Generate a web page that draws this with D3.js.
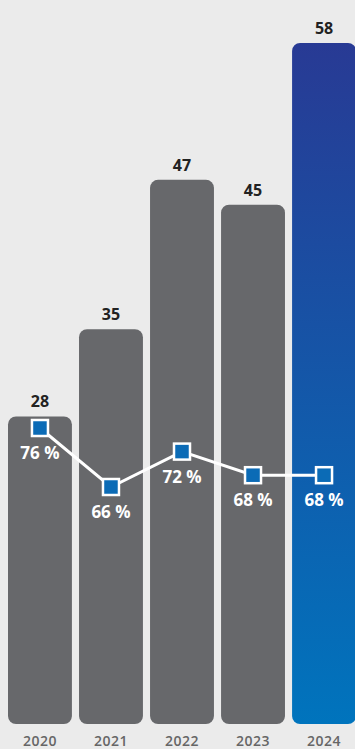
<!DOCTYPE html>
<html>
<head>
<meta charset="utf-8">
<script src="https://cdn.jsdelivr.net/npm/d3@7"></script>
<style>
  html, body { margin: 0; padding: 0; background: #ebebeb; }
  svg { display: block; }
</style>
</head>
<body>
<div id="chart"></div>
<script>
const years = ["2020", "2021", "2022", "2023", "2024"];
const values = [28, 35, 47, 45, 58];
const shares = [76, 66, 72, 68, 68];
const shareLabels = ["76 %", "66 %", "72 %", "68 %", "68 %"];

const W = 355, H = 749;
const svg = d3.select("#chart").append("svg")
  .attr("width", W).attr("height", H)
  .style("background", "#ebebeb");

const defs = svg.append("defs");
const grad = defs.append("linearGradient")
  .attr("id", "blueGrad").attr("x1", 0).attr("y1", 0).attr("x2", 0).attr("y2", 1);
grad.append("stop").attr("offset", "0%").attr("stop-color", "#283a94");
grad.append("stop").attr("offset", "100%").attr("stop-color", "#0074bd");

const x = d3.scaleBand().domain(years).range([8, 356]).paddingInner(0.1).paddingOuter(0);
const y = d3.scaleLinear().domain([0, 60]).range([765, 18]);
const yP = d3.scaleLinear().domain([60, 80]).range([522.4, 404.4]);
const baseY = 724;

const font = "'Open Sans', 'Noto Sans', sans-serif";

// Bars
svg.append("g").selectAll("rect").data(years).join("rect")
  .attr("x", d => x(d))
  .attr("y", (d, i) => y(values[i]))
  .attr("width", x.bandwidth())
  .attr("height", (d, i) => baseY - y(values[i]))
  .attr("rx", 8).attr("ry", 8)
  .attr("fill", (d, i) => i === years.length - 1 ? "url(#blueGrad)" : "#67686b");

// Value labels
svg.append("g").selectAll("text").data(years).join("text")
  .attr("x", d => x(d) + x.bandwidth() / 2)
  .attr("y", (d, i) => y(values[i]) - 9)
  .attr("text-anchor", "middle")
  .attr("font-family", font).attr("font-weight", 700).attr("font-size", 16)
  .attr("fill", "#222")
  .text((d, i) => values[i]);

// Year labels
svg.append("g").selectAll("text").data(years).join("text")
  .attr("x", d => x(d) + x.bandwidth() / 2)
  .attr("y", 746)
  .attr("text-anchor", "middle")
  .attr("font-family", font).attr("font-weight", 600).attr("font-size", 14)
  .attr("letter-spacing", 0.5)
  .attr("fill", "#666")
  .text(d => d);

// Line
const cx = d => x(d) + x.bandwidth() / 2;
const line = d3.line().x((d, i) => cx(years[i])).y(d => yP(d));
svg.append("path").datum(shares)
  .attr("d", line)
  .attr("fill", "none").attr("stroke", "#fff").attr("stroke-width", 3);

const sq = 16;
svg.append("g").selectAll("rect").data(years).join("rect")
  .attr("x", d => cx(d) - sq / 2)
  .attr("y", (d, i) => yP(shares[i]) - sq / 2)
  .attr("width", sq).attr("height", sq)
  .attr("fill", "#0b6bb6").attr("stroke", "#fff").attr("stroke-width", 2.5);

svg.append("g").selectAll("text").data(years).join("text")
  .attr("x", d => cx(d))
  .attr("y", (d, i) => yP(shares[i]) + 31)
  .attr("text-anchor", "middle")
  .attr("font-family", font).attr("font-weight", 700).attr("font-size", 17)
  .attr("fill", "#fff")
  .text((d, i) => shareLabels[i]);
</script>
</body>
</html>
